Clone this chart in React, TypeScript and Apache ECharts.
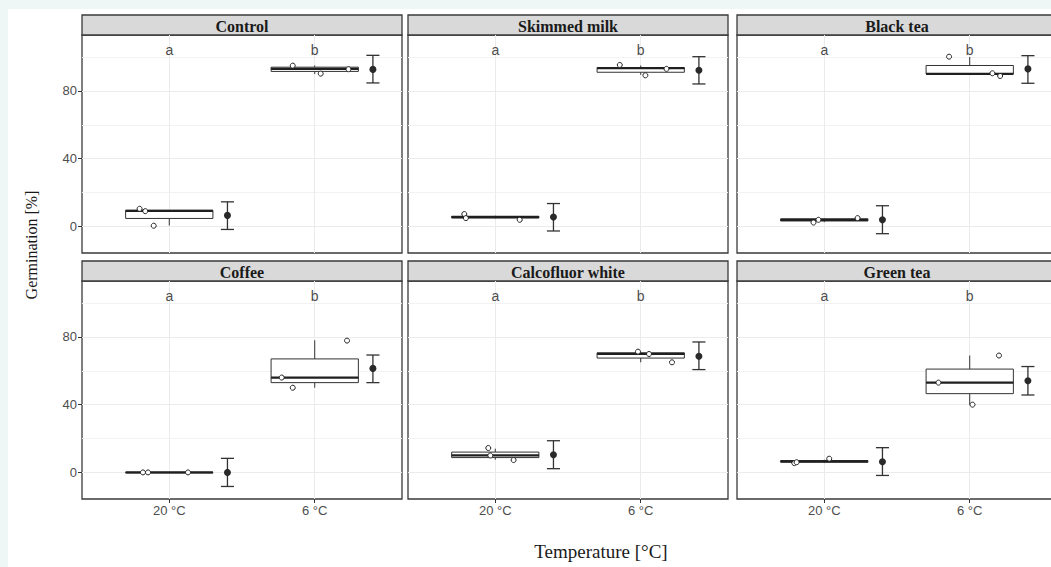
import React, { useEffect, useRef } from "react";
import * as echarts from "echarts";

const panelNames = ["Control", "Skimmed milk", "Black tea", "Coffee", "Calcofluor white", "Green tea"];
const tempLabels = ["20 °C", "6 °C"];
const groupLetters = ["a", "b"];
const yMajorTicks = [0, 40, 80];
const yMinorTicks = [20, 60, 100];

// box statistics [min, Q1, median, Q3, max] for [20 °C, 6 °C]
const boxStats = [
  [[0.5, 4.7, 9.2, 9.5, 9.5], [90, 91.5, 93, 94, 95]],
  [[4.8, 5.0, 5.5, 6.0, 6.3], [89.5, 91, 93.5, 93.8, 95]],
  [[2.5, 3.2, 3.8, 4.5, 4.8], [90, 90, 90, 95, 100]],
  [[0, 0, 0, 0, 0], [50, 53, 56, 67, 78]],
  [[7.5, 8.75, 10, 12, 14], [65, 67.5, 70, 70.6, 71.3]],
  [[5.5, 6.0, 6.5, 7.0, 7.5], [40, 46.5, 53, 61, 69]],
];

// replicate points [x offset from category, value] for [20 °C, 6 °C]
const replicatePoints = [
  [[[-0.204, 10.4], [-0.165, 9.0], [-0.107, 0.4]], [[-0.151, 94.9], [0.041, 90.2], [0.232, 92.8]]],
  [[[-0.213, 7.3], [-0.202, 4.9], [0.168, 3.9]], [[-0.144, 95.3], [0.032, 89.2], [0.177, 93]]],
  [[[-0.074, 2.3], [-0.04, 3.9], [0.229, 4.9]], [[-0.142, 100.2], [0.156, 90.4], [0.209, 88.8]]],
  [[[-0.181, 0], [-0.146, 0], [0.129, 0]], [[-0.227, 56], [-0.151, 50], [0.222, 77.8]]],
  [[[-0.048, 14.4], [-0.034, 10], [0.126, 7.3]], [[-0.019, 71.3], [0.057, 69.9], [0.215, 65]]],
  [[[-0.206, 5.5], [-0.19, 6], [0.034, 8.1]], [[-0.215, 53], [0.019, 40], [0.201, 69]]],
];

// mean and interval for [20 °C, 6 °C]
const means = [[6.5, 92.7], [5.5, 92.2], [3.9, 93], [0, 61.4], [10.4, 68.6], [6.3, 54.1]];
const ciLow = [[-1.8, 84.7], [-2.7, 84.1], [-4.3, 84.5], [-8.3, 53], [2.2, 60.7], [-1.8, 45.7]];
const ciHigh = [[14.5, 101], [13.5, 100.2], [12.2, 100.8], [8.3, 69.3], [18.7, 77], [14.6, 62.5]];

const colLeft = [82, 408, 737];
const rowTop = [35, 281];
const plotW = 320;
const plotH = 218;
const stripH = 20;
const yMin = -15.7;
const yMax = 113;
const meanOffset = 0.4;
const boxHalf = 0.3;
const capHalf = 0.045;
const letterY = 104;

export default function App() {
  const ref = useRef<HTMLDivElement>(null);

  useEffect(() => {
    if (!ref.current) return;
    const chart = echarts.init(ref.current, undefined, { renderer: "svg" });

    const grids: any[] = [];
    const xAxes: any[] = [];
    const yAxes: any[] = [];
    const series: any[] = [];
    const graphics: any[] = [];

    panelNames.forEach((name, i) => {
      const col = i % 3;
      const row = Math.floor(i / 3);
      grids.push({
        left: colLeft[col],
        top: rowTop[row],
        width: plotW,
        height: plotH,
        show: true,
        borderColor: "#3a3a3a",
        borderWidth: 1.3,
        backgroundColor: "#ffffff",
        containLabel: false,
        outerBoundsMode: "none",
      });
      xAxes.push({
        type: "value",
        gridIndex: i,
        min: 0.4,
        max: 2.6,
        position: "bottom",
        axisLine: { show: false, onZero: false },
        axisTick: { show: row === 1, customValues: [1, 2], length: 4, lineStyle: { color: "#333" } },
        axisLabel: {
          show: row === 1,
          customValues: [1, 2],
          formatter: (v: number) => tempLabels[Math.round(v) - 1],
          color: "#4d4d4d",
          fontSize: 13,
          fontFamily: "Liberation Sans",
          margin: 5,
        },
        splitLine: { show: true, lineStyle: { color: "#ebebeb", width: 1 } },
      });
      yAxes.push({
        type: "value",
        gridIndex: i,
        min: yMin,
        max: yMax,
        position: "left",
        axisLine: { show: false, onZero: false },
        axisTick: { show: col === 0, customValues: yMajorTicks, length: 4, lineStyle: { color: "#333" } },
        axisLabel: {
          show: col === 0,
          customValues: yMajorTicks,
          color: "#4d4d4d",
          fontSize: 13,
          fontFamily: "Liberation Sans",
          margin: 5,
        },
        splitLine: { show: true, lineStyle: { color: "#ebebeb", width: 1 } },
      });
      yAxes.push({
        type: "value",
        gridIndex: i,
        min: yMin,
        max: yMax,
        position: "right",
        axisLine: { show: false, onZero: false },
        axisTick: { show: false, customValues: yMinorTicks },
        axisLabel: { show: false, customValues: yMinorTicks },
        splitLine: { show: true, lineStyle: { color: "#f2f2f2", width: 1 } },
      });

      const yIdx = i * 2;

      // boxes
      series.push({
        type: "custom",
        xAxisIndex: i,
        yAxisIndex: yIdx,
        z: 3,
        data: boxStats[i].map((s, k) => [k + 1, ...s]),
        renderItem: (_p: any, api: any) => {
          const x = api.value(0);
          const mn = api.value(1), q1 = api.value(2), md = api.value(3), q3 = api.value(4), mx = api.value(5);
          const tl = api.coord([x - boxHalf, q3]);
          const br = api.coord([x + boxHalf, q1]);
          const top = api.coord([x, mx]);
          const bot = api.coord([x, mn]);
          const pq3 = api.coord([x, q3]);
          const pq1 = api.coord([x, q1]);
          const ml = api.coord([x - boxHalf, md]);
          const mr = api.coord([x + boxHalf, md]);
          const st = { stroke: "#333", lineWidth: 1, fill: "none" };
          return {
            type: "group",
            children: [
              { type: "line", shape: { x1: top[0], y1: top[1], x2: pq3[0], y2: pq3[1] }, style: st },
              { type: "line", shape: { x1: pq1[0], y1: pq1[1], x2: bot[0], y2: bot[1] }, style: st },
              {
                type: "rect",
                shape: { x: tl[0], y: tl[1], width: br[0] - tl[0], height: Math.max(br[1] - tl[1], 0.5) },
                style: { fill: "#ffffff", stroke: "#333", lineWidth: 1 },
              },
              { type: "line", shape: { x1: ml[0], y1: ml[1], x2: mr[0], y2: mr[1] }, style: { stroke: "#1f1f1f", lineWidth: 2.2 } },
            ],
          };
        },
      });

      // replicate points
      series.push({
        type: "scatter",
        xAxisIndex: i,
        yAxisIndex: yIdx,
        z: 4,
        symbol: "circle",
        symbolSize: 5,
        itemStyle: { color: "#ffffff", borderColor: "#222", borderWidth: 1, opacity: 1 },
        data: replicatePoints[i].flatMap((pts, k) => pts.map(([dx, y]) => [k + 1 + dx, y])),
      });

      // error bars
      series.push({
        type: "custom",
        xAxisIndex: i,
        yAxisIndex: yIdx,
        z: 4,
        data: [0, 1].map((k) => [k + 1 + meanOffset, ciLow[i][k], ciHigh[i][k]]),
        renderItem: (_p: any, api: any) => {
          const x = api.value(0);
          const lo = api.coord([x, api.value(1)]);
          const hi = api.coord([x, api.value(2)]);
          const loL = api.coord([x - capHalf, api.value(1)]);
          const loR = api.coord([x + capHalf, api.value(1)]);
          const hiL = api.coord([x - capHalf, api.value(2)]);
          const hiR = api.coord([x + capHalf, api.value(2)]);
          const st = { stroke: "#333", lineWidth: 1.3 };
          return {
            type: "group",
            children: [
              { type: "line", shape: { x1: lo[0], y1: lo[1], x2: hi[0], y2: hi[1] }, style: st },
              { type: "line", shape: { x1: loL[0], y1: loL[1], x2: loR[0], y2: loR[1] }, style: st },
              { type: "line", shape: { x1: hiL[0], y1: hiL[1], x2: hiR[0], y2: hiR[1] }, style: st },
            ],
          };
        },
      });

      // means
      series.push({
        type: "scatter",
        xAxisIndex: i,
        yAxisIndex: yIdx,
        z: 5,
        symbol: "circle",
        symbolSize: 7,
        itemStyle: { color: "#2a2a2a", opacity: 1 },
        data: [0, 1].map((k) => [k + 1 + meanOffset, means[i][k]]),
      });

      // group letters
      series.push({
        type: "custom",
        xAxisIndex: i,
        yAxisIndex: yIdx,
        z: 5,
        data: groupLetters.map((l, k) => [k + 1, letterY, l]),
        renderItem: (p: any, api: any) => {
          const pt = api.coord([api.value(0), api.value(1)]);
          return {
            type: "text",
            x: pt[0],
            y: pt[1],
            style: {
              text: groupLetters[p.dataIndex],
              fill: "#4d4d4d",
              font: '14px "Liberation Sans"',
              textAlign: "center",
              textVerticalAlign: "middle",
            },
          };
        },
      });

      // strip
      graphics.push({
        type: "rect",
        shape: { x: colLeft[col], y: rowTop[row] - stripH, width: plotW, height: stripH },
        style: { fill: "#d9d9d9", stroke: "#3a3a3a", lineWidth: 1.3 },
        silent: true,
      });
      graphics.push({
        type: "text",
        x: colLeft[col] + plotW / 2,
        y: rowTop[row] - stripH / 2 + 1,
        style: {
          text: name,
          font: 'bold 16px "Liberation Serif"',
          fill: "#1a1a1a",
          textAlign: "center",
          textVerticalAlign: "middle",
        },
        silent: true,
      });
    });

    graphics.push({
      type: "text",
      x: 31,
      y: 245,
      rotation: Math.PI / 2,
      style: {
        text: "Germination [%]",
        font: '16px "Liberation Serif"',
        fill: "#1a1a1a",
        textAlign: "center",
        textVerticalAlign: "middle",
      },
      silent: true,
    });
    graphics.push({
      type: "text",
      x: 601,
      y: 551,
      style: {
        text: "Temperature [°C]",
        font: '19px "Liberation Serif"',
        fill: "#1a1a1a",
        textAlign: "center",
        textVerticalAlign: "middle",
      },
      silent: true,
    });

    chart.setOption({
      animation: false,
      grid: grids,
      xAxis: xAxes,
      yAxis: yAxes,
      series,
      graphic: graphics,
    });

    return () => chart.dispose();
  }, []);

  return (
    <div style={{ position: "absolute", left: 0, top: 0, width: 1051, height: 567, background: "#eef7f6", overflow: "hidden" }}>
      <div style={{ position: "absolute", left: 8, top: 9, right: 0, bottom: 0, background: "#ffffff" }} />
      <div ref={ref} style={{ position: "absolute", left: 0, top: 0, width: 1051, height: 567 }} />
    </div>
  );
}
